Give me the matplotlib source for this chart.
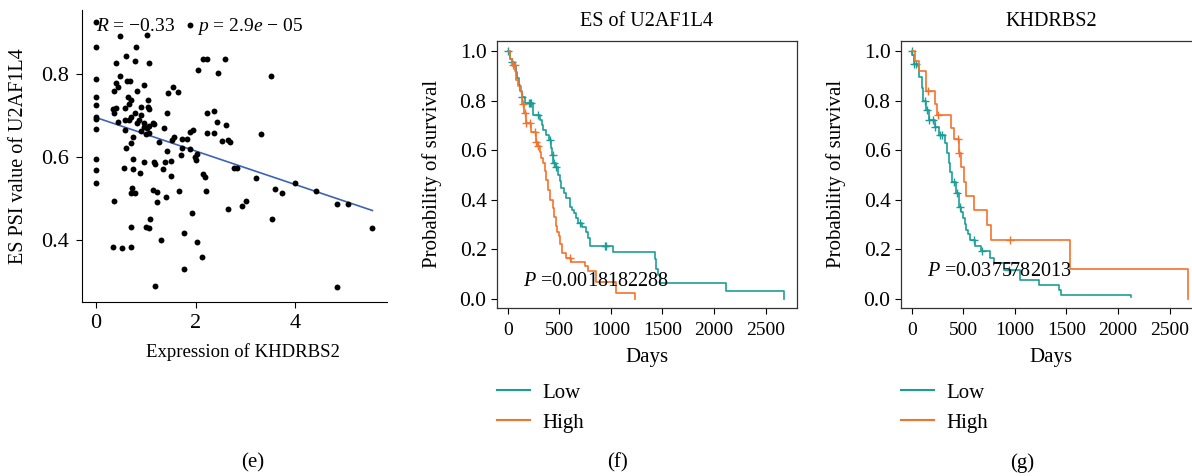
import numpy as np
import matplotlib
matplotlib.use("Agg")
import matplotlib.pyplot as plt
from matplotlib.lines import Line2D

plt.rcParams['font.family'] = ['Liberation Serif', 'DejaVu Serif']
plt.rcParams['mathtext.fontset'] = 'custom'
plt.rcParams['mathtext.rm'] = 'Liberation Serif'
plt.rcParams['mathtext.it'] = 'Liberation Serif:italic'

# ---------------- data: scatter (e) ----------------
scatter_x = [0, 0, 0, 0, 0, 0, 0, 0, 0, 0, 0, 0.49, 1.02, 0.80, 0.60, 0.79, 1.07, 0.40, 0.49, 0.62,
             0.68, 0.40, 0.44, 0.37, 0.82, 0.96, 0.64, 0.70, 1.04, 0.67, 1.04, 0.34, 0.41, 0.59, 0.90,
             1.06, 0.36, 0.78, 0.91, 0.70, 0.58, 0.66, 0.44, 0.82, 0.86, 0.96, 1.14, 1.16, 1.06, 1.02,
             0.96, 0.58, 0.91, 0.75, 1.06, 1.00, 0.61, 0.70, 0.56, 0.74, 0.74, 0.96, 0.88, 0.73, 0.70,
             0.78, 0.36, 0.70, 0.35, 0.52, 0.70, 1.00, 1.07, 1.08, 1.15, 1.23, 1.22, 1.17, 1.18, 1.26,
             1.35, 1.38, 1.37, 1.41, 1.42, 1.43, 1.45, 1.50, 1.51, 1.53, 1.56, 1.55, 1.64, 1.67, 1.70,
             1.72, 1.72, 1.83, 1.89, 1.94, 1.89, 1.98, 2.01, 2.02, 1.93, 1.77, 1.77, 2.02, 1.31, 1.19,
             2.13, 2.05, 2.14, 2.22, 2.45, 2.59, 2.22, 2.37, 2.42, 2.61, 2.23, 2.37, 2.54, 2.66, 2.69,
             2.15, 2.18, 2.20, 2.65, 2.78, 2.84, 2.94, 3.01, 3.22, 3.32, 3.52, 3.53, 3.60, 3.73, 4.00,
             4.41, 4.83, 5.06, 4.83, 5.55, 1.89]
scatter_y = [0.924, 0.866, 0.788, 0.745, 0.726, 0.696, 0.692, 0.667, 0.595, 0.569, 0.537, 0.892, 0.893,
             0.866, 0.844, 0.832, 0.826, 0.826, 0.794, 0.782, 0.784, 0.778, 0.768, 0.760, 0.760, 0.773,
             0.745, 0.737, 0.737, 0.728, 0.721, 0.715, 0.718, 0.717, 0.721, 0.716, 0.705, 0.707, 0.701,
             0.697, 0.689, 0.688, 0.683, 0.681, 0.688, 0.681, 0.681, 0.680, 0.675, 0.669, 0.671, 0.665,
             0.663, 0.647, 0.657, 0.655, 0.621, 0.633, 0.573, 0.596, 0.572, 0.589, 0.561, 0.525, 0.512,
             0.512, 0.494, 0.431, 0.384, 0.380, 0.384, 0.431, 0.429, 0.451, 0.521, 0.515, 0.492, 0.587,
             0.583, 0.635, 0.572, 0.588, 0.670, 0.503, 0.707, 0.615, 0.753, 0.554, 0.591, 0.641, 0.649,
             0.769, 0.757, 0.519, 0.605, 0.621, 0.643, 0.643, 0.661, 0.665, 0.619, 0.601, 0.593, 0.607,
             0.464, 0.418, 0.329, 0.394, 0.400, 0.289, 0.360, 0.810, 0.837, 0.837, 0.802, 0.835, 0.707,
             0.710, 0.684, 0.677, 0.657, 0.657, 0.639, 0.641, 0.637, 0.559, 0.551, 0.518, 0.475, 0.573,
             0.573, 0.483, 0.494, 0.549, 0.655, 0.795, 0.450, 0.524, 0.514, 0.538, 0.519, 0.487, 0.487,
             0.286, 0.430, 0.918]
fit_x = [0.0, 5.55]
fit_y = [0.695, 0.471]
corr_label = "$R$ = \u22120.33"
p_label = "$p$ = 2.9$e$ \u2212 05"

# ---------------- data: KM (f) ES of U2AF1L4 ----------------
f_low_t = [0, 20, 40, 60, 75, 90, 105, 120, 140, 165, 245, 310, 330, 345, 370, 400, 420, 433, 443, 471,
           490, 505, 520, 545, 568, 601, 620, 640, 660, 682, 720, 756, 775, 794, 1021, 1425, 1440, 1457,
           1480, 2120, 2675]
f_low_s = [1.0, 0.97, 0.955, 0.94, 0.915, 0.89, 0.865, 0.84, 0.815, 0.79, 0.74, 0.72, 0.70, 0.68, 0.66,
           0.64, 0.61, 0.58, 0.55, 0.53, 0.50, 0.475, 0.446, 0.425, 0.405, 0.372, 0.36, 0.346, 0.325,
           0.306, 0.29, 0.271, 0.245, 0.214, 0.187, 0.16, 0.12, 0.095, 0.063, 0.030, 0.0]
f_low_cens = [6, 44, 142, 207, 215, 229, 290, 409, 439, 445, 471, 697, 939, 955]
f_high_t = [0, 20, 40, 70, 84, 100, 123, 142, 160, 181, 229, 270, 290, 310, 325, 342, 360, 375, 390,
            407, 439, 450, 465, 480, 497, 510, 529, 560, 610, 745, 778, 860, 1053, 1230]
f_high_s = [1.0, 0.97, 0.945, 0.92, 0.884, 0.86, 0.835, 0.788, 0.75, 0.711, 0.675, 0.634, 0.615, 0.594,
            0.57, 0.547, 0.515, 0.48, 0.44, 0.399, 0.366, 0.33, 0.292, 0.27, 0.252, 0.22, 0.185, 0.165,
            0.148, 0.131, 0.111, 0.067, 0.023, 0.0]
f_high_cens = [48, 69, 149, 165, 181, 214, 262, 278, 294, 600]
f_title = "ES of U2AF1L4"
f_pval = "$P$ =0.0018182288"

# ---------------- data: KM (g) KHDRBS2 ----------------
g_low_t = [0, 5, 17, 56, 74, 95, 113, 140, 165, 220, 260, 324, 340, 356, 372, 389, 430, 460, 480, 497,
           515, 529, 548, 568, 617, 675, 763, 795, 893, 1053, 1231, 1431, 1445, 2124]
g_low_s = [1.0, 0.985, 0.949, 0.94, 0.895, 0.85, 0.80, 0.761, 0.723, 0.694, 0.661, 0.627, 0.59, 0.547,
           0.51, 0.473, 0.426, 0.372, 0.35, 0.325, 0.30, 0.279, 0.26, 0.239, 0.212, 0.192, 0.165, 0.145,
           0.117, 0.076, 0.056, 0.036, 0.016, 0.005]
g_low_cens = [1, 23, 42, 129, 145, 171, 204, 227, 269, 292, 405, 438, 464, 601, 682, 941]
g_high_t = [0, 32, 74, 139, 227, 248, 380, 406, 455, 475, 502, 525, 599, 730, 771, 1534, 2675]
g_high_s = [1.0, 0.96, 0.918, 0.839, 0.788, 0.741, 0.691, 0.643, 0.590, 0.533, 0.473, 0.413, 0.357,
            0.297, 0.239, 0.120, 0.0]
g_high_cens = [155, 250, 444, 458, 948]
g_title = "KHDRBS2"
g_pval = "$P$ =0.0375782013"

group_labels = ["Low", "High"]
panel_labels = ["(e)", "(f)", "(g)"]

TEAL = "#1b9e97"
ORANGE = "#f3722c"
BLUE = "#3c63b5"

W, H = 1192, 476
fig = plt.figure(figsize=(W / 100, H / 100), dpi=100)


def box(l, t, r, b):
    return [l / W, 1 - b / H, (r - l) / W, (b - t) / H]


# ---------- (e) scatter ----------
ax = fig.add_axes(box(82, 10, 387, 302))
ax.scatter(scatter_x, scatter_y, s=18, color="black", linewidths=0, zorder=3)
ax.plot(fit_x, fit_y, color=BLUE, lw=1.2, zorder=2)
ax.set_xlim(-0.281, 5.843)
ax.set_ylim(0.2506, 0.954)
ax.set_xticks([0, 2, 4])
ax.set_yticks([0.4, 0.6, 0.8])
ax.set_yticklabels(["0.4", "0.6", "0.8"])
for sp in ["top", "right"]:
    ax.spines[sp].set_visible(False)
ax.tick_params(labelsize=16, length=4, width=0.8, pad=5)
ax.set_ylabel("ES PSI value of U2AF1L4", fontsize=14.5)
ax.set_xlabel("Expression of KHDRBS2", fontsize=13.5)
ax.yaxis.set_label_coords((18 - 82) / 305, 0.5)
ax.xaxis.set_label_coords((243 - 82) / 305, (302 - 352) / 292)
ax.xaxis.label.set_va("center")
ax.yaxis.label.set_va("center")
ax.text(0.0, 0.914, corr_label, fontsize=14, va="center", ha="left")
ax.text(2.02, 0.914, p_label, fontsize=14, va="center", ha="left")


def km_panel(rect, low_t, low_s, low_c, high_t, high_s, high_c, title, ptxt, ptxt_y):
    a = fig.add_axes(rect)
    for t, s, c, col in [(low_t, low_s, low_c, TEAL), (high_t, high_s, high_c, ORANGE)]:
        t = np.asarray(t, float)
        s = np.asarray(s, float)
        a.step(t, s, where="post", color=col, lw=1.2)
        idx = np.searchsorted(t, np.asarray(c, float), side="right") - 1
        a.plot(c, s[idx], ls="none", marker="+", ms=6, mew=1.0, color=col)
    a.set_xlim(-105, 2805)
    a.set_ylim(-0.0375, 1.042)
    a.set_xticks([0, 500, 1000, 1500, 2000, 2500])
    a.set_yticks([0.0, 0.2, 0.4, 0.6, 0.8, 1.0])
    a.tick_params(axis="y", labelsize=15.5, length=4, width=0.8)
    a.tick_params(axis="x", labelsize=14, length=4, width=0.8, pad=6)
    for sp in a.spines.values():
        sp.set_linewidth(0.9)
        sp.set_color("#333333")
    a.set_ylabel("Probability of survival", fontsize=15)
    a.set_xlabel("Days", fontsize=15)
    a.yaxis.set_label_coords(-0.217, 0.5)
    a.xaxis.set_label_coords(0.5, -0.187)
    a.xaxis.label.set_va("center")
    a.yaxis.label.set_va("center")
    a.text(0.5, 1 + (40.7 - 22) / 267.3, title, transform=a.transAxes, ha="center", va="center",
           fontsize=14.5)
    a.text(150, ptxt_y, ptxt, fontsize=14.5, va="center", ha="left")
    handles = [Line2D([], [], color=TEAL, lw=1.5), Line2D([], [], color=ORANGE, lw=1.5)]
    x0 = rect[0]
    a.legend(handles, group_labels, loc="upper left", bbox_to_anchor=(x0, 1 - 383 / H),
             bbox_transform=fig.transFigure, frameon=False, fontsize=15, borderpad=0,
             borderaxespad=0, handlelength=1.6, handletextpad=0.6, labelspacing=0.5)
    return a


km_panel(box(497, 40.7, 797, 308), f_low_t, f_low_s, f_low_cens, f_high_t, f_high_s, f_high_cens,
         f_title, f_pval, 0.07)
km_panel(box(901, 40.7, 1201, 308), g_low_t, g_low_s, g_low_cens, g_high_t, g_high_s, g_high_cens,
         g_title, g_pval, 0.11)

for lab, xp in zip(panel_labels, [253, 617, 1022]):
    fig.text(xp / W, 1 - 463 / H, lab, ha="center", va="center", fontsize=15)

fig.savefig("out.png", dpi=100)
